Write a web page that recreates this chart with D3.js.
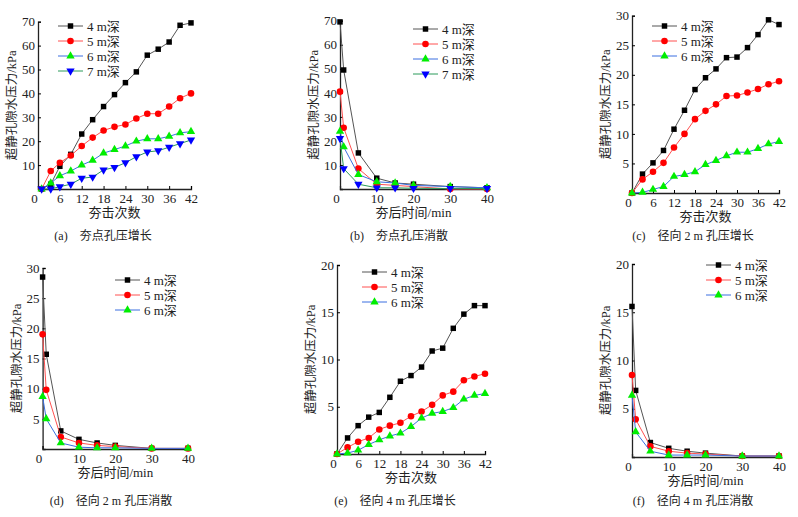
<!DOCTYPE html>
<html><head><meta charset="utf-8">
<script src="https://cdn.jsdelivr.net/npm/d3@7"></script>
<style>
body{margin:0;background:#fff}
text{font-family:"Liberation Serif","Noto Sans CJK SC",serif;fill:#222}
</style></head><body>
<script>
const width = 798, height = 517;

// blow counts and times
const blowsA = [1,3.5,6,9,12,15,18,21,24,27,30,33,36,39,42];
const blows = [0,3,6,9,12,15,18,21,24,27,30,33,36,39,42];
const times = [0,1,5,10,15,20,30,40];
const depths = ['4 m深','5 m深','6 m深','7 m深'];

// (a) tamping point growth
const aD4 = [0,2,9.5,14.5,23,29,34.5,39.5,44.5,49,56,58.5,61.5,68.5,69.5];
const aD5 = [0,7.5,11,14,18,21.5,24.5,26,27,29.5,31.5,31.5,34.5,38,40];
const aD6 = [0,2.5,5.5,7.5,10,12,15,16.5,18,20,21,21,22,23.5,24];
const aD7 = [0,0,1,2,4.5,5,8,9,11,13.5,15.5,16,17.5,19,20.5];
// (b) tamping point dissipation
const bD4 = [69.5,49.5,15,4.5,2.5,2,1,0.5];
const bD5 = [40.5,25.5,8.5,2,1.5,1,0,0];
const bD6 = [24,17.5,6,3,2.5,1.5,1,0.5];
const bD7 = [21,8.5,2,0.5,0.5,0.3,0.2,0.2];
// (c) radial 2 m growth
const cD4 = [0,3.2,5.1,7.2,10.8,14,17.5,19.5,21,22.9,23,24.6,26.8,29.3,28.5];
const cD5 = [0,2.3,3.6,5.1,7.7,10,12.5,13.9,15,16.4,16.5,17,17.6,18.4,18.9];
const cD6 = [0,0.1,0.6,1.1,2.8,3.1,3.6,4.8,5.5,6.3,6.9,6.9,7.5,8.3,8.7];
// (d) radial 2 m dissipation
const dD4 = [28.5,15.7,3,1.6,1,0.6,0.1,0.1];
const dD5 = [19,9.8,2,1,0.6,0.4,0.1,0.1];
const dD6 = [8.7,5,1,0.3,0.2,0.2,0.1,0.1];
// (e) radial 4 m growth
const eD4 = [0,1.7,3,3.9,4.4,6,7.7,8.3,9.2,10.9,11.2,13.3,14.8,15.7,15.7];
const eD5 = [0,0.7,1.3,1.7,2.6,3,3.3,4,4.5,5.2,6.2,6.6,7.8,8.2,8.5];
const eD6 = [0,0.1,0.4,1,1.5,1.9,2.2,2.9,3.8,4.3,4.5,4.9,5.8,6.2,6.4];
// (f) radial 4 m dissipation
const fD4 = [15.6,6.9,1.5,0.9,0.6,0.4,0.1,0.1];
const fD5 = [8.5,3.9,1.1,0.6,0.4,0.3,0.1,0.1];
const fD6 = [6.4,2.6,0.6,0.2,0.2,0.2,0.1,0.1];

const growTicks = [0,6,12,18,24,30,36,42];
const timeTicks = [0,10,20,30,40];

const lineCol = ['#555','#ff5050','#3a6fe0','#2a9a5a'];
const markCol = ['#000','#ff0000','#00ee00','#0000ff'];
const symbols = [d3.symbolSquare, d3.symbolCircle, d3.symbolTriangle, d3.symbolTriangle];

const panels = [
  {x0:38,x1:191,y0:189,yTop:21.7,xd:[0,42],yd:[0,70],yt:d3.range(10,71,10),xt:growTicks,xs:blowsA,
   series:[aD4,aD5,aD6,aD7],xlab:'夯击次数',cap:'(a)　夯点孔压增长',capX:103,capY:240,lx:58,ly:26},
  {x0:340,x1:487,y0:189,yTop:20.7,xd:[0,40],yd:[0,70],yt:d3.range(10,71,10),xt:timeTicks,xs:times,
   series:[bD4,bD5,bD6,bD7],xlab:'夯后时间/min',cap:'(b)　夯点孔压消散',capX:399,capY:240,lx:413,ly:29},
  {x0:632,x1:779,y0:193,yTop:15.7,xd:[0,42],yd:[0,30],yt:d3.range(5,31,5),xt:growTicks,xs:blows,
   series:[cD4,cD5,cD6],xlab:'夯击次数',cap:'(c)　径向 2 m 孔压增长',capX:693,capY:240,lx:652,ly:26},
  {x0:42.6,x1:188,y0:449,yTop:268,xd:[0,40],yd:[0,30],yt:d3.range(5,31,5),xt:timeTicks,xs:times,
   series:[dD4,dD5,dD6],xlab:'夯后时间/min',cap:'(d)　径向 2 m 孔压消散',capX:111,capY:505,lx:115,ly:280},
  {x0:337,x1:485,y0:454,yTop:265,xd:[0,42],yd:[0,20],yt:[5,10,15,20],xt:growTicks,xs:blows,
   series:[eD4,eD5,eD6],xlab:'夯击次数',cap:'(e)　径向 4 m 孔压增长',capX:395,capY:505,lx:362,ly:272},
  {x0:632,x1:779,y0:457,yTop:264,xd:[0,40],yd:[0,20],yt:[5,10,15,20],xt:timeTicks,xs:times,
   series:[fD4,fD5,fD6],xlab:'夯后时间/min',cap:'(f)　径向 4 m 孔压消散',capX:693,capY:505,lx:706,ly:265}
];

const svg = d3.select('body').append('svg').attr('width', width).attr('height', height);

panels.forEach(p => {
  const g = svg.append('g');
  const x = d3.scaleLinear().domain(p.xd).range([p.x0, p.x1]);
  const y = d3.scaleLinear().domain(p.yd).range([p.y0, p.yTop]);

  const xa = g.append('g').attr('transform', `translate(0,${p.y0})`)
    .call(d3.axisBottom(x).tickValues(p.xt).tickSize(-3).tickPadding(5));
  const ya = g.append('g').attr('transform', `translate(${p.x0},0)`)
    .call(d3.axisLeft(y).tickValues(p.yt).tickSize(-3).tickPadding(3));
  [xa, ya].forEach(a => {
    a.select('.domain').attr('stroke', '#222').attr('stroke-width', 1.3);
    a.selectAll('text').style('font-size', '13px').attr('fill', '#222');
  });
  xa.selectAll('.tick').filter(d => d === 0).select('text').attr('dx', -4);

  g.append('text').attr('x', (p.x0 + p.x1) / 2).attr('y', p.y0 + 28)
    .attr('text-anchor', 'middle').style('font-size', '13px').text(p.xlab);
  g.append('text').attr('transform', `translate(${p.x0 - 22},${(p.y0 + p.yTop) / 2}) rotate(-90)`)
    .attr('text-anchor', 'middle').style('font-size', '12.5px').text('超静孔隙水压力/kPa');
  g.append('text').attr('x', p.capX).attr('y', p.capY)
    .attr('text-anchor', 'middle').style('font-size', '12px').text(p.cap);

  const line = d3.line().x((d, i) => x(p.xs[i])).y(d => y(d));
  p.series.forEach((s, k) => {
    g.append('path').datum(s).attr('d', line).attr('fill', 'none')
      .attr('stroke', lineCol[k]).attr('stroke-width', 1);
    g.selectAll(null).data(s).enter().append('path')
      .attr('d', d3.symbol().type(symbols[k]).size(k === 1 ? 34 : 30))
      .attr('transform', (d, i) => `translate(${x(p.xs[i])},${y(d)})${k === 3 ? ' rotate(180)' : ''}`)
      .attr('fill', markCol[k]);

    const ly = p.ly + k * 15;
    g.append('line').attr('x1', p.lx).attr('x2', p.lx + 25).attr('y1', ly).attr('y2', ly)
      .attr('stroke', lineCol[k]);
    g.append('path').attr('d', d3.symbol().type(symbols[k]).size(k === 1 ? 34 : 30))
      .attr('transform', `translate(${p.lx + 12.5},${ly})${k === 3 ? ' rotate(180)' : ''}`)
      .attr('fill', markCol[k]);
    g.append('text').attr('x', p.lx + 29).attr('y', ly + 4.5)
      .style('font-size', '13px').text(depths[k]);
  });
});
</script>
</body></html>
